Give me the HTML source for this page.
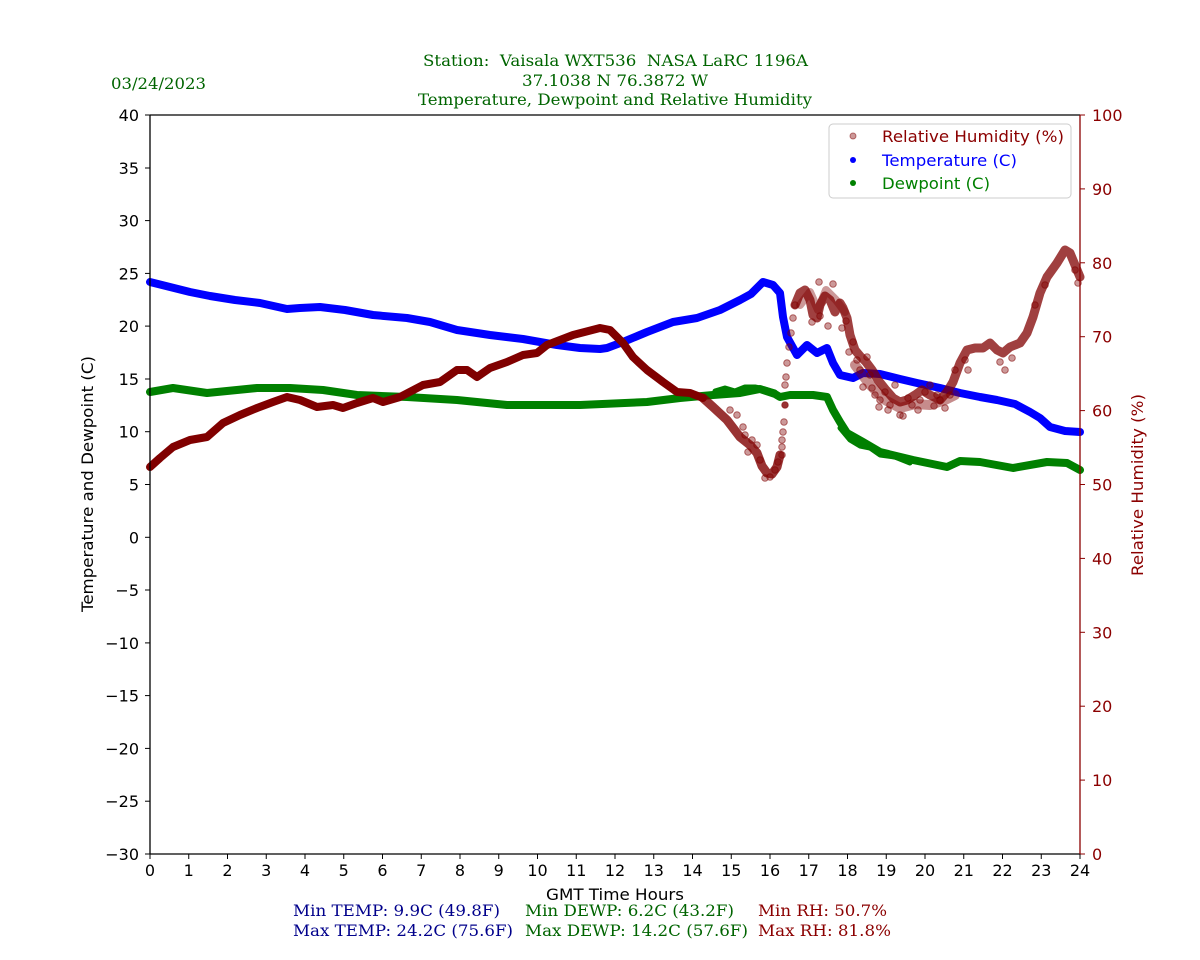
<!DOCTYPE html>
<html>
<head>
<meta charset="utf-8">
<style>
  html,body{margin:0;padding:0;background:#fff;}
  svg{display:block;}
  .sans{font-family:"DejaVu Sans","Liberation Sans",sans-serif;}
  .serif{font-family:"DejaVu Serif","Liberation Serif",serif;}
</style>
</head>
<body>
<svg width="1200" height="960" viewBox="0 0 1200 960" xmlns="http://www.w3.org/2000/svg">
  <rect x="0" y="0" width="1200" height="960" fill="#fff"/>

  <!-- Titles -->
  <g class="serif" fill="#006400" font-size="16">
    <text x="615.5" y="66" text-anchor="middle" xml:space="preserve" textLength="385" lengthAdjust="spacingAndGlyphs">Station:  Vaisala WXT536  NASA LaRC 1196A</text>
    <text x="615" y="86" text-anchor="middle" textLength="186" lengthAdjust="spacingAndGlyphs">37.1038 N 76.3872 W</text>
    <text x="615" y="105" text-anchor="middle" textLength="394" lengthAdjust="spacingAndGlyphs">Temperature, Dewpoint and Relative Humidity</text>
    <text x="111" y="89" textLength="95" lengthAdjust="spacingAndGlyphs">03/24/2023</text>
  </g>

  <!-- Data -->
  <g fill="none" stroke-linecap="round" stroke-linejoin="round">
    <!-- Temperature -->
    <polyline stroke="#0000ff" stroke-width="8" points="150,282 170,287 190,292 210,296 235,300 260,303 287,309 300,308 320,307 345,310 373,315 407,318 430,322 457,330 490,335 523,339 557,345 580,348 600,349 607,348 623,342 647,332 673,322 697,318 720,310 740,300 751,294 763,282 773,285 780,293 783,317 787,337 797,355 807,345 817,353 827,348 833,363 840,375 853,378 863,373 880,374 900,379 917,383 940,388 960,393 980,397 997,400 1015,404 1030,412 1040,418 1050,427 1065,431 1080,432"/>
    <!-- Dewpoint -->
    <polyline stroke="#008000" stroke-width="8" points="150,392 173,388 207,393 257,388 290,388 323,390 357,395 407,397 457,400 507,405 580,405 647,402 680,398 713,395 740,393 760,389 775,394 780,397 790,395 813,395 827,397 833,410 840,422 847,433 863,442 880,452 913,460 947,467 960,461 980,462 1013,468 1047,462 1067,463 1080,470"/>
    <polyline stroke="#008000" stroke-width="5" points="715,391 725,388 735,391 745,387 755,387 765,389 775,392" />
    <polyline stroke="#008000" stroke-width="5" points="840,428 850,440 860,446 870,448 880,455 895,457 910,463" />

    <!-- RH smooth part -->
    <polyline stroke="#800000" stroke-width="8" points="150,467 160,458 173,447 190,440 207,437 223,423 240,415 257,408 273,402 287,397 300,400 317,407 333,405 343,408 357,403 373,398 383,402 400,397 423,385 440,382 457,370 467,370 477,377 490,368 507,362 523,355 537,353 547,345 573,335 600,328 610,330 623,343 633,357 647,370 663,382 677,392 690,393 703,398"/>
    <!-- RH noisy descent -->
    <polyline stroke="#800000" stroke-opacity="0.8" stroke-width="9" points="703,398 713,407 727,420 740,437 750,445 757,453 762,466 767,473 772,474 777,467 780,455"/>
    <!-- RH noisy plateau and rest -->
    <polyline stroke="#800000" stroke-opacity="0.75" stroke-width="9" points="795,305 800,293 805,290 810,300 813,315 817,318 820,305 825,296 830,300 835,312 840,303 843,308 847,318 850,335 855,350 860,356 866,362 872,370 878,380 886,390 893,398 900,402 907,400 915,395 922,390 930,395 940,400 947,392 953,382 960,363 967,350 975,348 983,348 990,343 997,350 1003,353 1010,347 1020,343 1027,333 1033,317 1040,293 1047,277 1057,263 1065,250 1070,253 1075,265 1080,277"/>
    <polyline stroke="#800000" stroke-opacity="0.45" stroke-width="10" points="855,365 870,385 885,400 900,408 915,404 930,405 945,400 955,395"/>
    <polyline stroke="#800000" stroke-opacity="0.4" stroke-width="8" points="800,305 810,292 818,310 826,290 836,300 845,312"/>
  </g>

  <!-- RH scatter outliers -->
  <g fill="#800000" fill-opacity="0.4" stroke="#800000" stroke-opacity="0.55" stroke-width="1">
    <circle cx="730" cy="410" r="3.3"/><circle cx="737" cy="415" r="3.3"/><circle cx="743" cy="427" r="3.3"/>
    <circle cx="752" cy="440" r="3.3"/><circle cx="748" cy="452" r="3.3"/><circle cx="760" cy="460" r="3.3"/>
    <circle cx="765" cy="478" r="3.3"/><circle cx="770" cy="477" r="3.3"/><circle cx="775" cy="470" r="3.3"/>
    <circle cx="778" cy="462" r="3.3"/><circle cx="757" cy="445" r="3.3"/><circle cx="745" cy="435" r="3.3"/>
    <circle cx="782" cy="455" r="3.3"/><circle cx="782" cy="447" r="3.3"/><circle cx="782" cy="440" r="3.3"/>
    <circle cx="783" cy="432" r="3.3"/><circle cx="784" cy="422" r="3.3"/><circle cx="785" cy="405" r="3.3" fill-opacity="0.8"/>
    <circle cx="785" cy="385" r="3.3"/><circle cx="786" cy="377" r="3.3"/><circle cx="787" cy="363" r="3.3"/>
    <circle cx="789" cy="347" r="3.3"/><circle cx="791" cy="333" r="3.3"/><circle cx="793" cy="318" r="3.3"/>
    <circle cx="795" cy="305" r="3.3"/>
    <circle cx="819" cy="282" r="3.3"/><circle cx="833" cy="284" r="3.3"/><circle cx="828" cy="326" r="3.3"/>
    <circle cx="820" cy="316" r="3.3"/><circle cx="812" cy="322" r="3.3"/><circle cx="846" cy="321" r="3.3"/>
    <circle cx="842" cy="328" r="3.3"/><circle cx="853" cy="342" r="3.3"/><circle cx="849" cy="352" r="3.3"/>
    <circle cx="857" cy="360" r="3.3"/><circle cx="867" cy="357" r="3.3"/><circle cx="863" cy="387" r="3.3"/>
    <circle cx="872" cy="388" r="3.3"/><circle cx="880" cy="400" r="3.3"/><circle cx="879" cy="407" r="3.3"/>
    <circle cx="890" cy="405" r="3.3"/><circle cx="900" cy="415" r="3.3"/><circle cx="903" cy="416" r="3.3"/>
    <circle cx="912" cy="405" r="3.3"/><circle cx="920" cy="400" r="3.3"/><circle cx="934" cy="406" r="3.3"/>
    <circle cx="945" cy="408" r="3.3"/><circle cx="940" cy="400" r="3.3"/><circle cx="955" cy="370" r="3.3"/>
    <circle cx="965" cy="360" r="3.3"/><circle cx="968" cy="370" r="3.3"/><circle cx="1000" cy="362" r="3.3"/>
    <circle cx="1005" cy="370" r="3.3"/><circle cx="1012" cy="358" r="3.3"/><circle cx="1035" cy="305" r="3.3"/>
    <circle cx="1045" cy="285" r="3.3"/><circle cx="1078" cy="283" r="3.3"/><circle cx="1075" cy="270" r="3.3"/>
    <circle cx="870" cy="375" r="3.3"/><circle cx="885" cy="392" r="3.3"/><circle cx="895" cy="385" r="3.3"/>
    <circle cx="925" cy="392" r="3.3"/><circle cx="930" cy="385" r="3.3"/><circle cx="950" cy="395" r="3.3"/>
    <circle cx="888" cy="410" r="3.3"/><circle cx="908" cy="398" r="3.3"/><circle cx="918" cy="410" r="3.3"/>
    <circle cx="875" cy="395" r="3.3"/><circle cx="937" cy="395" r="3.3"/><circle cx="860" cy="370" r="3.3"/>
  </g>

  <!-- Axes spines -->
  <g stroke-width="1.3" fill="none">
    <line x1="150" y1="115" x2="1080" y2="115" stroke="#000"/>
    <line x1="150" y1="115" x2="150" y2="854" stroke="#000"/>
    <line x1="150" y1="854" x2="1080" y2="854" stroke="#000"/>
    <line x1="1080" y1="115" x2="1080" y2="854" stroke="#8b0000"/>
  </g>

  <!-- Left ticks -->
  <g stroke="#000" stroke-width="1">
    <line x1="145" y1="115" x2="150" y2="115"/><line x1="145" y1="168" x2="150" y2="168"/>
    <line x1="145" y1="220.6" x2="150" y2="220.6"/><line x1="145" y1="273.4" x2="150" y2="273.4"/>
    <line x1="145" y1="326.1" x2="150" y2="326.1"/><line x1="145" y1="379" x2="150" y2="379"/>
    <line x1="145" y1="431.7" x2="150" y2="431.7"/><line x1="145" y1="484.5" x2="150" y2="484.5"/>
    <line x1="145" y1="537.3" x2="150" y2="537.3"/><line x1="145" y1="590" x2="150" y2="590"/>
    <line x1="145" y1="642.9" x2="150" y2="642.9"/><line x1="145" y1="695.6" x2="150" y2="695.6"/>
    <line x1="145" y1="748.4" x2="150" y2="748.4"/><line x1="145" y1="801.2" x2="150" y2="801.2"/>
    <line x1="145" y1="854" x2="150" y2="854"/>
  </g>
  <g class="sans" font-size="16" fill="#000" text-anchor="end">
    <text x="139" y="121">40</text><text x="139" y="174">35</text><text x="139" y="226.6">30</text>
    <text x="139" y="279.4">25</text><text x="139" y="332.1">20</text><text x="139" y="385">15</text>
    <text x="139" y="437.7">10</text><text x="139" y="490.5">5</text><text x="139" y="543.3">0</text>
    <text x="139" y="596">−5</text><text x="139" y="648.9">−10</text><text x="139" y="701.6">−15</text>
    <text x="139" y="754.4">−20</text><text x="139" y="807.2">−25</text><text x="139" y="860">−30</text>
  </g>

  <!-- Right ticks -->
  <g stroke="#8b0000" stroke-width="1">
    <line x1="1080" y1="115" x2="1085" y2="115"/><line x1="1080" y1="188.9" x2="1085" y2="188.9"/>
    <line x1="1080" y1="262.8" x2="1085" y2="262.8"/><line x1="1080" y1="336.7" x2="1085" y2="336.7"/>
    <line x1="1080" y1="410.6" x2="1085" y2="410.6"/><line x1="1080" y1="484.5" x2="1085" y2="484.5"/>
    <line x1="1080" y1="558.4" x2="1085" y2="558.4"/><line x1="1080" y1="632.3" x2="1085" y2="632.3"/>
    <line x1="1080" y1="706.2" x2="1085" y2="706.2"/><line x1="1080" y1="780.1" x2="1085" y2="780.1"/>
    <line x1="1080" y1="854" x2="1085" y2="854"/>
  </g>
  <g class="sans" font-size="16" fill="#8b0000">
    <text x="1092" y="121">100</text><text x="1092" y="194.9">90</text><text x="1092" y="268.8">80</text>
    <text x="1092" y="342.7">70</text><text x="1092" y="416.6">60</text><text x="1092" y="490.5">50</text>
    <text x="1092" y="564.4">40</text><text x="1092" y="638.3">30</text><text x="1092" y="712.2">20</text>
    <text x="1092" y="786.1">10</text><text x="1092" y="860">0</text>
  </g>

  <!-- Bottom ticks -->
  <g stroke="#000" stroke-width="1">
    <line x1="150" y1="854" x2="150" y2="859"/><line x1="188.75" y1="854" x2="188.75" y2="859"/>
    <line x1="227.5" y1="854" x2="227.5" y2="859"/><line x1="266.25" y1="854" x2="266.25" y2="859"/>
    <line x1="305" y1="854" x2="305" y2="859"/><line x1="343.75" y1="854" x2="343.75" y2="859"/>
    <line x1="382.5" y1="854" x2="382.5" y2="859"/><line x1="421.25" y1="854" x2="421.25" y2="859"/>
    <line x1="460" y1="854" x2="460" y2="859"/><line x1="498.75" y1="854" x2="498.75" y2="859"/>
    <line x1="537.5" y1="854" x2="537.5" y2="859"/><line x1="576.25" y1="854" x2="576.25" y2="859"/>
    <line x1="615" y1="854" x2="615" y2="859"/><line x1="653.75" y1="854" x2="653.75" y2="859"/>
    <line x1="692.5" y1="854" x2="692.5" y2="859"/><line x1="731.25" y1="854" x2="731.25" y2="859"/>
    <line x1="770" y1="854" x2="770" y2="859"/><line x1="808.75" y1="854" x2="808.75" y2="859"/>
    <line x1="847.5" y1="854" x2="847.5" y2="859"/><line x1="886.25" y1="854" x2="886.25" y2="859"/>
    <line x1="925" y1="854" x2="925" y2="859"/><line x1="963.75" y1="854" x2="963.75" y2="859"/>
    <line x1="1002.5" y1="854" x2="1002.5" y2="859"/><line x1="1041.25" y1="854" x2="1041.25" y2="859"/>
    <line x1="1080" y1="854" x2="1080" y2="859"/>
  </g>
  <g class="sans" font-size="16" fill="#000" text-anchor="middle">
    <text x="150" y="876">0</text><text x="188.75" y="876">1</text><text x="227.5" y="876">2</text>
    <text x="266.25" y="876">3</text><text x="305" y="876">4</text><text x="343.75" y="876">5</text>
    <text x="382.5" y="876">6</text><text x="421.25" y="876">7</text><text x="460" y="876">8</text>
    <text x="498.75" y="876">9</text><text x="537.5" y="876">10</text><text x="576.25" y="876">11</text>
    <text x="615" y="876">12</text><text x="653.75" y="876">13</text><text x="692.5" y="876">14</text>
    <text x="731.25" y="876">15</text><text x="770" y="876">16</text><text x="808.75" y="876">17</text>
    <text x="847.5" y="876">18</text><text x="886.25" y="876">19</text><text x="925" y="876">20</text>
    <text x="963.75" y="876">21</text><text x="1002.5" y="876">22</text><text x="1041.25" y="876">23</text>
    <text x="1080" y="876">24</text>
  </g>

  <!-- Axis labels -->
  <g class="sans" font-size="16">
    <text x="615" y="900" text-anchor="middle" fill="#000" textLength="138" lengthAdjust="spacingAndGlyphs">GMT Time Hours</text>
    <text transform="translate(93,484) rotate(-90)" text-anchor="middle" fill="#000" textLength="256" lengthAdjust="spacingAndGlyphs">Temperature and Dewpoint (C)</text>
    <text transform="translate(1143,485) rotate(-90)" text-anchor="middle" fill="#8b0000" textLength="182" lengthAdjust="spacingAndGlyphs">Relative Humidity (%)</text>
  </g>

  <!-- Legend -->
  <rect x="829" y="124" width="242" height="74" rx="4" ry="4" fill="#fff" fill-opacity="0.8" stroke="#cccccc" stroke-width="1"/>
  <circle cx="853" cy="136" r="3" fill="#800000" fill-opacity="0.4" stroke="#800000" stroke-opacity="0.5"/>
  <circle cx="853" cy="160" r="3" fill="#0000ff"/>
  <circle cx="853" cy="183" r="3" fill="#008000"/>
  <g class="sans" font-size="16">
    <text x="882" y="142" fill="#8b0000" textLength="182" lengthAdjust="spacingAndGlyphs">Relative Humidity (%)</text>
    <text x="882" y="166" fill="#0000ff" textLength="135" lengthAdjust="spacingAndGlyphs">Temperature (C)</text>
    <text x="882" y="189" fill="#008000" textLength="108" lengthAdjust="spacingAndGlyphs">Dewpoint (C)</text>
  </g>

  <!-- Stats -->
  <g class="serif" font-size="16">
    <text x="293" y="916" fill="#00008b" textLength="207" lengthAdjust="spacingAndGlyphs">Min TEMP: 9.9C (49.8F)</text>
    <text x="293" y="936" fill="#00008b" textLength="220" lengthAdjust="spacingAndGlyphs">Max TEMP: 24.2C (75.6F)</text>
    <text x="525" y="916" fill="#006400" textLength="209" lengthAdjust="spacingAndGlyphs">Min DEWP: 6.2C (43.2F)</text>
    <text x="525" y="936" fill="#006400" textLength="223" lengthAdjust="spacingAndGlyphs">Max DEWP: 14.2C (57.6F)</text>
    <text x="758" y="916" fill="#8b0000" textLength="129" lengthAdjust="spacingAndGlyphs">Min RH: 50.7%</text>
    <text x="758" y="936" fill="#8b0000" textLength="133" lengthAdjust="spacingAndGlyphs">Max RH: 81.8%</text>
  </g>
</svg>
</body>
</html>
